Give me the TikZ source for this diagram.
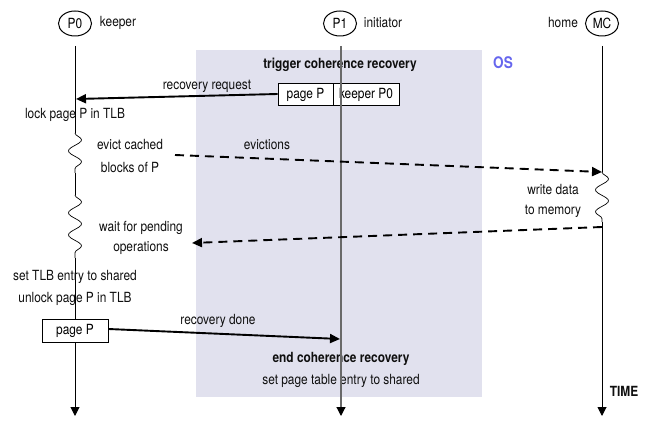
\documentclass[tikz,border=0pt]{standalone}
\usepackage{fontspec}
\setmainfont{TeX Gyre Heros}[FakeStretch=0.85]
\usetikzlibrary{arrows.meta,decorations.pathmorphing,shapes.geometric}
\definecolor{osbg}{RGB}{225,225,238}
\definecolor{osblue}{RGB}{102,102,238}
\definecolor{lifegray}{RGB}{105,105,105}
\definecolor{txt}{RGB}{15,15,15}
\begin{document}
\begin{tikzpicture}[x=1pt,y=-1pt,
  font=\fontsize{14}{16}\selectfont,
  proc/.style={ellipse, draw, line width=1pt, minimum width=33pt, minimum height=25pt, inner sep=0pt},
  lbl/.style={inner sep=0pt, anchor=center, text=txt},
  bold/.style={lbl, font=\fontsize{14}{16}\selectfont\bfseries},
  life/.style={line width=1pt},
  lifetip/.style={line width=1pt, -{Triangle[length=9pt,width=9pt,color=black,fill=black]}},
  msg/.style={line width=1.9pt, -{Triangle[length=10pt,width=9pt]}},
  dmsg/.style={msg, dash pattern=on 9pt off 6pt},
  wavy/.style={line width=0.7pt, decorate, decoration={snake, segment length=22pt, amplitude=6.5pt}},
  field/.style={draw, fill=white, line width=0.9pt, minimum height=22pt, inner sep=0pt}
]
\useasboundingbox (0,0) rectangle (654,422);

% OS region
\fill[osbg] (196,50) rectangle (482,397);
\node[lbl, text=osblue, font=\fontsize{16}{18}\selectfont\bfseries] (os) at (503,63) {OS};

% processes
\node[proc] (P0) at (75,23.5) {P0};
\node[proc] (P1) at (340,23.5) {P1};
\node[proc] (MC) at (602,23.5) {MC};
\node[lbl] (keeper) at (118,23) {keeper};
\node[lbl] (initiator) at (383,23) {initiator};
\node[lbl] (home) at (563,23) {home};

% lifeline coordinates
\coordinate (p0top) at (75,46);
\coordinate (p0w1a) at (75,133);
\coordinate (p0w1b) at (75,173);
\coordinate (p0w2a) at (75,195);
\coordinate (p0w2b) at (75,258);
\coordinate (p0bot) at (75,416);
\coordinate (p1top) at (341,46);
\coordinate (p1bot) at (341,416);
\coordinate (mctop) at (602,46);
\coordinate (mcwa) at (602,172);
\coordinate (mcwb) at (602,222);
\coordinate (mcbot) at (602,416);

% P0 lifeline
\draw[life] (p0top) -- (p0w1a);
\draw[wavy] (p0w1a) -- (p0w1b);
\draw[life] (p0w1b) -- (p0w2a);
\draw[wavy] (p0w2a) -- (p0w2b);
\draw[lifetip] (p0w2b) -- (p0bot);

% MC lifeline
\draw[life] (mctop) -- (mcwa);
\draw[wavy] (mcwa) -- (mcwb);
\draw[lifetip] (mcwb) -- (mcbot);

% texts
\node[bold] (trig) at (340,65) {trigger coherence recovery};
\node[lbl] (rreq) at (207,86) {recovery request};
\node[lbl] (lock) at (75,115) {lock page P in TLB};
\node[lbl] (evict1) at (130,145) {evict cached};
\node[lbl] (evict2) at (130,167) {blocks of P};
\node[lbl] (evs) at (267,145) {evictions};
\node[lbl] (wr1) at (553,190) {write data};
\node[lbl] (wr2) at (553,211) {to memory};
\node[lbl] (wait1) at (141,228) {wait for pending};
\node[lbl] (wait2) at (141,248) {operations};
\node[lbl] (setT) at (75,277) {set TLB entry to shared};
\node[lbl] (unl) at (75,299) {unlock page P in TLB};
\node[lbl] (rdone) at (218,321) {recovery done};
\node[bold] (endc) at (341,359) {end coherence recovery};
\node[lbl] (setP) at (341,381) {set page table entry to shared};
\node[bold] (time) at (624,391) {TIME};

% request boxes
\node[field, minimum width=55pt] (pgP) at (305.5,94.5) {page P};
\node[field, minimum width=66pt] (kP0) at (366,94.5) {keeper P0};
\node[field, minimum width=66pt, minimum height=23pt] (pgB) at (75,330.5) {page P};

% P1 lifeline (on top)
\draw[lifetip, draw=lifegray, line width=1.2pt] (p1top) -- (p1bot);

% messages
\coordinate (rqEnd) at (76,99);
\draw[msg] (pgP.west |- 0,94) -- (rqEnd);
\coordinate (evStart) at (175,155);
\draw[dmsg] (evStart) -- (mcwa);
\coordinate (wtStart) at (602,227);
\coordinate (wtEnd) at (192,243);
\draw[dmsg] (wtStart) -- (wtEnd);
\coordinate (rdEnd) at (340,339);
\draw[msg] (pgB.east |- 0,329) -- (rdEnd);
\end{tikzpicture}
\end{document}
